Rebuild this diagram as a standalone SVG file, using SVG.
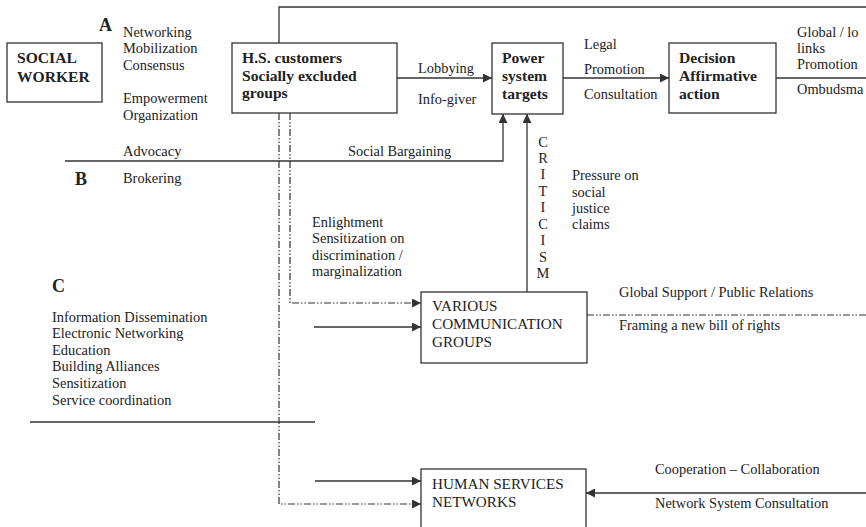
<svg xmlns="http://www.w3.org/2000/svg" width="866" height="527" viewBox="0 0 866 527">
<style>
text{font-family:"Liberation Serif","Times New Roman",serif;fill:#222;font-size:14.4px}
.b{font-weight:bold;font-size:15.6px}
.L{font-weight:bold;font-size:18px}
.box{fill:#fff;stroke:#333;stroke-width:1.3}
.ln{fill:none;stroke:#333;stroke-width:1.3}
.dd{fill:none;stroke:#333;stroke-width:1.2;stroke-dasharray:7 2 1.5 2 1.5 2}
.u{font-size:15.2px}
</style>
<defs>
<marker id="ah" viewBox="0 0 10 10" refX="10" refY="5" markerWidth="10" markerHeight="9" orient="auto" markerUnits="userSpaceOnUse"><path d="M0,0 L10,5 L0,10 z" fill="#333"/></marker>
</defs>
<g id="connectors">
<path class="ln" d="M279,43 V7 H866"/>
<path class="ln" d="M397,78 H492" marker-end="url(#ah)"/>
<path class="ln" d="M563,78 H669" marker-end="url(#ah)"/>
<path class="ln" d="M776,78 H866"/>
<path class="ln" d="M65,161 H503 V114" marker-end="url(#ah)"/>
<path class="ln" d="M527,292 V114" marker-end="url(#ah)"/>
<path class="dd" d="M290,113 V303 H421" marker-end="url(#ah)"/>
<path class="dd" d="M279,113 V504 H421" marker-end="url(#ah)"/>
<path class="ln" d="M314,327 H421" marker-end="url(#ah)"/>
<path class="ln" d="M315,481 H421" marker-end="url(#ah)"/>
<path class="ln" d="M866,493 H586" marker-end="url(#ah)"/>
<path class="dd" d="M587,315 H866"/>
<path class="ln" d="M30,422 H315"/>
</g>
<g id="social-worker">
<rect class="box" x="7" y="43" width="95" height="59"/>
<text class="b" x="17" y="63">SOCIAL</text>
<text class="b" x="17" y="82">WORKER</text>
</g>
<g id="hs-customers">
<rect class="box" x="232" y="43" width="165" height="70"/>
<text class="b" x="242" y="63">H.S. customers</text>
<text class="b" x="242" y="81">Socially excluded</text>
<text class="b" x="242" y="98">groups</text>
</g>
<g id="power-system">
<rect class="box" x="492" y="43" width="71" height="71"/>
<text class="b" x="502" y="63">Power</text>
<text class="b" x="502" y="81">system</text>
<text class="b" x="502" y="99">targets</text>
</g>
<g id="decision">
<rect class="box" x="669" y="43" width="107" height="70"/>
<text class="b" x="679" y="63">Decision</text>
<text class="b" x="679" y="81">Affirmative</text>
<text class="b" x="679" y="99">action</text>
</g>
<g id="various-communication">
<rect class="box" x="421" y="292" width="166" height="71"/>
<text class="u" x="432" y="311">VARIOUS</text>
<text class="u" x="432" y="329">COMMUNICATION</text>
<text class="u" x="432" y="347">GROUPS</text>
</g>
<g id="human-services">
<rect class="box" x="421" y="469" width="165" height="70"/>
<text class="u" x="432" y="489">HUMAN SERVICES</text>
<text class="u" x="432" y="507">NETWORKS</text>
</g>
<g id="labels">
<text class="L" x="99" y="31">A</text>
<text x="123" y="37">Networking</text>
<text x="123" y="53">Mobilization</text>
<text x="123" y="70">Consensus</text>
<text x="123" y="103">Empowerment</text>
<text x="123" y="120">Organization</text>
<text x="123" y="156">Advocacy</text>
<text class="L" x="75" y="185">B</text>
<text x="123" y="183">Brokering</text>
<text x="418" y="73">Lobbying</text>
<text x="418" y="104">Info-giver</text>
<text x="348" y="156">Social Bargaining</text>
<text x="584" y="49">Legal</text>
<text x="584" y="74">Promotion</text>
<text x="584" y="99">Consultation</text>
<text x="797" y="37">Global / lo</text>
<text x="797" y="53">links</text>
<text x="797" y="69">Promotion</text>
<text x="797" y="94">Ombudsma</text>
<g text-anchor="middle">
<text x="543" y="147">C</text>
<text x="543" y="163">R</text>
<text x="543" y="179">I</text>
<text x="543" y="196">T</text>
<text x="543" y="212">I</text>
<text x="543" y="229">C</text>
<text x="543" y="245">I</text>
<text x="543" y="262">S</text>
<text x="543" y="278">M</text>
</g>
<text x="572" y="180">Pressure on</text>
<text x="572" y="197">social</text>
<text x="572" y="213">justice</text>
<text x="572" y="229">claims</text>
<text x="312" y="227">Enlightment</text>
<text x="312" y="243">Sensitization on</text>
<text x="312" y="260">discrimination /</text>
<text x="312" y="276">marginalization</text>
<text class="L" x="52" y="292">C</text>
<text x="52" y="322">Information Dissemination</text>
<text x="52" y="338">Electronic Networking</text>
<text x="52" y="355">Education</text>
<text x="52" y="371">Building Alliances</text>
<text x="52" y="388">Sensitization</text>
<text x="52" y="405">Service coordination</text>
<text x="619" y="297">Global Support / Public Relations</text>
<text x="619" y="330">Framing a new bill of rights</text>
<text x="655" y="474">Cooperation – Collaboration</text>
<text x="655" y="508">Network System Consultation</text>
</g>
</svg>
